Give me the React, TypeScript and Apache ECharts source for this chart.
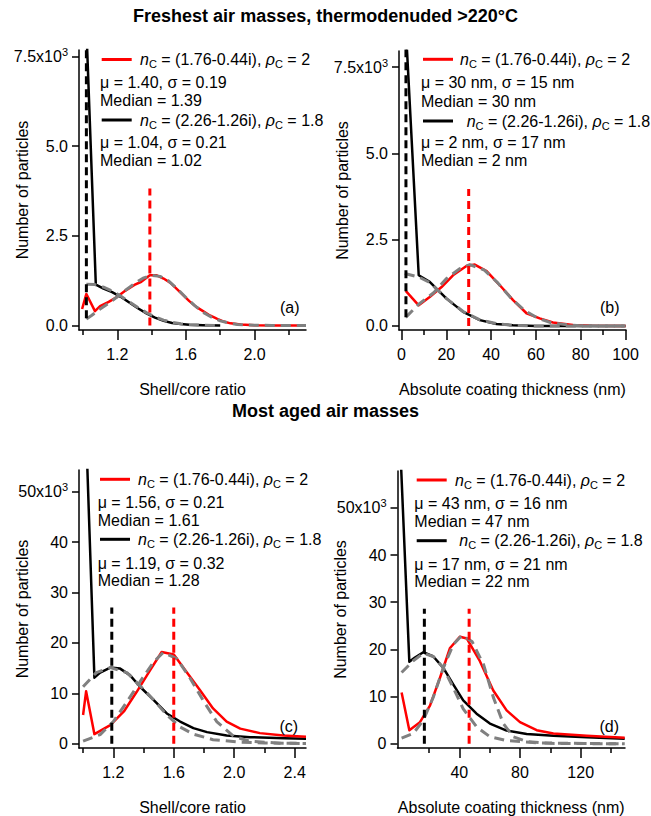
import React, { useEffect, useRef } from "react";
import * as echarts from "echarts";

const FONT = "'Liberation Sans', Arial, Helvetica, sans-serif";
const RED = "#ff0000";
const BLACK = "#000000";
const GRAY = "#808080";

// ---------- Titles ----------
const titleTop = "Freshest air masses, thermodenuded >220°C";
const titleBottom = "Most aged air masses";

// ---------- Tick values ----------
const ratioMajorA = [1.2, 1.6, 2.0];
const ratioMinorA = [1.0, 1.4, 1.8, 2.2];
const ratioMajorC = [1.2, 1.6, 2.0, 2.4];
const ratioMinorC = [1.0, 1.4, 1.8, 2.2];
const nmMajorB = [0, 20, 40, 60, 80, 100];
const nmMinorB = [10, 30, 50, 70, 90];
const nmMajorD = [40, 80, 120];
const nmMinorD = [20, 60, 100, 140];
const yTicksTop = [0, 2.5, 5.0, 7.5];
const yTicksBottom = [0, 10, 20, 30, 40, 50];

// ---------- Panel (a): shell/core ratio, freshest (x10^3) ----------
const aRed = [[0.995, 0.46], [1.02, 0.88], [1.07, 0.40], [1.10, 0.54], [1.15, 0.66], [1.20, 0.80], [1.25, 0.98], [1.30, 1.13], [1.34, 1.22], [1.39, 1.40], [1.43, 1.40], [1.47, 1.31], [1.51, 1.19], [1.56, 0.96], [1.62, 0.68], [1.66, 0.52], [1.70, 0.40], [1.74, 0.28], [1.78, 0.19], [1.82, 0.11], [1.86, 0.06], [1.92, 0.03], [2.0, 0.01], [2.1, 0.0], [2.3, 0.0]];
const aBlack = [[1.02, 8.3], [1.075, 1.14], [1.12, 1.03], [1.17, 0.93], [1.22, 0.80], [1.27, 0.64], [1.32, 0.48], [1.37, 0.34], [1.42, 0.22], [1.47, 0.13], [1.52, 0.07], [1.57, 0.04], [1.62, 0.02], [1.7, 0.01], [1.8, 0.0]];
const aFitRed = [[1.02, 0.18], [1.05, 0.28], [1.10, 0.46], [1.15, 0.62], [1.20, 0.80], [1.25, 0.99], [1.30, 1.17], [1.35, 1.32], [1.40, 1.40], [1.45, 1.37], [1.50, 1.24], [1.55, 1.02], [1.60, 0.78], [1.65, 0.56], [1.70, 0.37], [1.75, 0.23], [1.80, 0.13], [1.85, 0.07], [1.90, 0.03], [2.0, 0.01], [2.1, 0.0], [2.3, 0.0]];
const aFitBlack = [[1.02, 1.15], [1.07, 1.14], [1.12, 1.07], [1.17, 0.96], [1.22, 0.82], [1.27, 0.66], [1.32, 0.50], [1.37, 0.36], [1.42, 0.24], [1.47, 0.15], [1.52, 0.09], [1.57, 0.05], [1.62, 0.02], [1.7, 0.01], [1.8, 0.0]];
const aMedRed = [[1.39, 0], [1.39, 3.82]];
const aMedBlack = [[1.02, 0.2], [1.02, 8]];
const aStats = ["μ = 1.40, σ = 0.19", "Median = 1.39", "μ = 1.04, σ = 0.21", "Median = 1.02"];

// ---------- Panel (b): coating thickness, freshest (x10^3) ----------
const bRed = [[1.9, 1.02], [7.7, 0.60], [12.6, 0.84], [17.9, 1.13], [23, 1.47], [29, 1.74], [32.7, 1.78], [38, 1.59], [43.9, 1.18], [49.8, 0.75], [55.8, 0.37], [61.7, 0.22], [67.6, 0.10], [76.5, 0.03], [85, 0.01], [100, 0.0]];
const bBlack = [[1.9, 8.7], [7.7, 1.47], [12.6, 1.28], [20, 0.80], [27.5, 0.41], [35, 0.17], [42.4, 0.06], [49.7, 0.02], [60, 0.0], [100, 0.0]];
const bFitRed = [[1.9, 0.25], [7.7, 0.63], [14.5, 0.97], [20, 1.37], [26, 1.66], [30.5, 1.78], [37, 1.62], [43, 1.25], [49, 0.80], [55, 0.45], [61, 0.22], [67, 0.09], [73, 0.04], [80, 0.01], [90, 0.0], [100, 0.0]];
const bFitBlack = [[1.5, 1.52], [7.7, 1.42], [12.6, 1.26], [20, 0.80], [27.5, 0.42], [35, 0.18], [42.4, 0.07], [49.7, 0.02], [60, 0.0], [100, 0.0]];
const bMedRed = [[30, 0], [30, 3.97]];
const bMedBlack = [[2, 0.25], [2, 8.5]];
const bStats = ["μ = 30 nm, σ = 15 nm", "Median = 30 nm", "μ = 2 nm, σ = 17 nm", "Median = 2 nm"];

// ---------- Panel (c): shell/core ratio, most aged (x10^3) ----------
const cRed = [[1.0, 5.7], [1.02, 10.4], [1.075, 1.9], [1.18, 3.7], [1.27, 6.4], [1.355, 10.3], [1.444, 14.6], [1.52, 18.2], [1.60, 17.7], [1.686, 14.2], [1.774, 10.6], [1.86, 7.0], [1.95, 4.4], [2.04, 3.0], [2.17, 2.1], [2.325, 1.65], [2.475, 1.4]];
const cBlack = [[1.02, 62], [1.075, 13.1], [1.113, 14.1], [1.18, 15.1], [1.245, 14.9], [1.31, 13.6], [1.377, 11.3], [1.466, 8.7], [1.554, 6.0], [1.642, 4.4], [1.73, 3.1], [1.82, 2.3], [1.95, 1.65], [2.105, 1.3], [2.33, 1.1], [2.475, 1.0]];
const cFitRed = [[1.0, 0.5], [1.113, 1.8], [1.2, 4.4], [1.29, 8.3], [1.377, 12.3], [1.466, 16.2], [1.53, 18.1], [1.62, 16.9], [1.71, 12.9], [1.8, 8.3], [1.884, 4.4], [1.995, 1.5], [2.1, 0.5], [2.3, 0.1], [2.475, 0.05]];
const cFitBlack = [[1.0, 11.3], [1.087, 14.1], [1.18, 15.1], [1.29, 14.1], [1.377, 11.5], [1.466, 8.7], [1.554, 5.7], [1.642, 3.3], [1.73, 1.9], [1.86, 0.8], [2.04, 0.3], [2.2, 0.15], [2.475, 0.05]];
const cMedRed = [[1.60, 0], [1.60, 27.0]];
const cMedBlack = [[1.19, 0], [1.19, 27.0]];
const cStats = ["μ = 1.56, σ = 0.21", "Median = 1.61", "μ = 1.19, σ = 0.32", "Median = 1.28"];

// ---------- Panel (d): coating thickness, most aged (x10^3) ----------
const dRed = [[2, 10.9], [7.1, 2.9], [14.1, 4.6], [20.7, 8.1], [27.3, 14.0], [33.9, 20.3], [40.5, 22.7], [45, 22.3], [53.6, 17.5], [62.4, 11.3], [71.2, 7.1], [80, 4.6], [91, 2.9], [102, 2.2], [124, 1.7], [149, 1.3]];
const dBlack = [[1.5, 60], [7.1, 17.4], [10.8, 18.3], [16.3, 19.4], [22.9, 18.5], [29.5, 16.1], [36, 12.6], [42.6, 9.2], [51.4, 6.4], [60.2, 4.3], [71.2, 2.8], [84.4, 2.1], [102, 1.7], [124, 1.4], [149, 1.1]];
const dFitRed = [[2, 1.2], [9.7, 2.2], [16.3, 5.0], [22.9, 9.9], [29.5, 16.1], [36, 21.0], [41.8, 23.0], [48.4, 21.7], [56, 16.8], [62.4, 9.9], [69, 4.3], [75.6, 1.5], [84.4, 0.5], [100, 0.1], [149, 0.0]];
const dFitBlack = [[2, 15.1], [9.7, 17.6], [16.3, 19.2], [22.9, 18.5], [29.5, 16.1], [36, 11.9], [42.6, 7.4], [51.4, 3.6], [60.2, 1.5], [71, 0.7], [91, 0.2], [149, 0.0]];
const dMedRed = [[46.5, 0], [46.5, 28.6]];
const dMedBlack = [[17, 0], [17, 28.6]];
const dStats = ["μ = 43 nm, σ = 16 nm", "Median = 47 nm", "μ = 17 nm, σ = 21 nm", "Median = 22 nm"];

const legendRed = ["(1.76-0.44i)", "2"];
const legendBlack = ["(2.26-1.26i)", "1.8"];
const panelTags = ["(a)", "(b)", "(c)", "(d)"];

// ---------- layout ----------
const panels = [
  {
    grid: { left: 79, top: 50, width: 227, height: 280 },
    xMin: 0.977, xMax: 2.3, yMin: -0.125, yMax: 7.68,
    xMajor: ratioMajorA, xMinor: ratioMinorA, xDec: 1, yTicks: yTicksTop, yDec: 1, yTop: 7.5,
    xName: "Shell/core ratio",
    red: aRed, black: aBlack, fitRed: aFitRed, fitBlack: aFitBlack, medRed: aMedRed, medBlack: aMedBlack, stats: aStats,
    leg: { sx1: 101.7, sx2: 131.7, t1: 140, t4: 140, st: 100, ys: [59.5, 82, 100, 120, 142, 160] },
    tag: { x: 280, y: 307 },
  },
  {
    grid: { left: 399, top: 51, width: 227, height: 279 },
    xMin: -1.1, xMax: 100.2, yMin: -0.116, yMax: 7.97,
    xMajor: nmMajorB, xMinor: nmMinorB, xDec: 0, yTicks: yTicksTop, yDec: 1, yTop: 7.5,
    xName: "Absolute coating thickness (nm)",
    red: bRed, black: bBlack, fitRed: bFitRed, fitBlack: bFitBlack, medRed: bMedRed, medBlack: bMedBlack, stats: bStats,
    leg: { sx1: 423, sx2: 453, t1: 460, t4: 466.7, st: 421, ys: [59.3, 82.7, 101, 121, 142.7, 160] },
    tag: { x: 600, y: 307 },
  },
  {
    grid: { left: 79, top: 470, width: 227, height: 280 },
    xMin: 0.973, xMax: 2.475, yMin: -0.85, yMax: 54.3,
    xMajor: ratioMajorC, xMinor: ratioMinorC, xDec: 1, yTicks: yTicksBottom, yDec: 0, yTop: 50,
    xName: "Shell/core ratio",
    red: cRed, black: cBlack, fitRed: cFitRed, fitBlack: cFitBlack, medRed: cMedRed, medBlack: cMedBlack, stats: cStats,
    leg: { sx1: 100, sx2: 130, t1: 138, t4: 138, st: 97.7, ys: [479.3, 502.3, 520, 539.3, 563.3, 580.7] },
    tag: { x: 279.5, y: 726 },
  },
  {
    grid: { left: 397.5, top: 471, width: 227.5, height: 280.5 },
    xMin: -0.7, xMax: 149.2, yMin: -0.88, yMax: 57.8,
    xMajor: nmMajorD, xMinor: nmMinorD, xDec: 0, yTicks: yTicksBottom, yDec: 0, yTop: 50,
    xName: "Absolute coating thickness (nm)",
    red: dRed, black: dBlack, fitRed: dFitRed, fitBlack: dFitBlack, medRed: dMedRed, medBlack: dMedBlack, stats: dStats,
    leg: { sx1: 416.7, sx2: 446.7, t1: 455, t4: 459.3, st: 414.3, ys: [480, 503.3, 521.7, 540.7, 564, 581.7] },
    tag: { x: 599.5, y: 726 },
  },
];

const axisLineStyle = { color: "#000", width: 1.5 };
const textBase = { fontSize: 16, fontFamily: FONT, color: "#000" };

const richGraphic = {
  t: { fontSize: 16, fontFamily: FONT, lineHeight: 20, fill: "#000" },
  i: { fontSize: 16, fontFamily: FONT, lineHeight: 20, fontStyle: "italic", fill: "#000" },
  s: { fontSize: 11, fontFamily: FONT, lineHeight: 12, verticalAlign: "bottom", fill: "#000" },
};

function nLabel(pair: string[]) {
  return `{i|n}{s|C}{t| = ${pair[0]}, }{i|ρ}{s|C}{t| = ${pair[1]}}`;
}

function textEl(x: number, y: number, text: string, rich?: any) {
  return {
    type: "text",
    x,
    y,
    silent: true,
    z: 100,
    style: {
      text,
      rich,
      fill: "#000",
      font: `16px ${FONT}`,
      align: "left",
      textAlign: "left",
      verticalAlign: "middle",
      textVerticalAlign: "middle",
    },
  };
}

function lineEl(x1: number, x2: number, y: number, color: string) {
  return {
    type: "line",
    silent: true,
    z: 100,
    shape: { x1, y1: y, x2, y2: y },
    style: { stroke: color, lineWidth: 3 },
  };
}

function buildOption() {
  const grid: any[] = [];
  const xAxis: any[] = [];
  const yAxis: any[] = [];
  const series: any[] = [];
  const graphic: any[] = [];

  panels.forEach((p, i) => {
    grid.push({ ...p.grid, containLabel: false });
    const xfmt = (v: number) => v.toFixed(p.xDec);
    xAxis.push({
      type: "value",
      gridIndex: i,
      min: p.xMin,
      max: p.xMax,
      position: "bottom",
      name: p.xName,
      nameLocation: "middle",
      nameGap: 51,
      nameMoveOverlap: false,
      nameTextStyle: { ...textBase },
      axisLine: { show: true, onZero: false, lineStyle: axisLineStyle },
      axisTick: { show: true, inside: false, length: 10, customValues: p.xMajor, lineStyle: axisLineStyle },
      axisLabel: { show: true, customValues: p.xMajor, margin: 16, ...textBase, formatter: xfmt },
      splitLine: { show: false },
    });
    xAxis.push({
      type: "value",
      gridIndex: i,
      min: p.xMin,
      max: p.xMax,
      position: "bottom",
      axisLine: { show: false, onZero: false },
      axisTick: { show: true, inside: false, length: 5, customValues: p.xMinor, lineStyle: axisLineStyle },
      axisLabel: { show: false },
      splitLine: { show: false },
    });
    const yfmt = (v: number) => {
      const s = v.toFixed(p.yDec);
      return Math.abs(v - p.yTop) < 1e-9 ? `{b|${s}x10}{sup|3}` : s;
    };
    yAxis.push({
      type: "value",
      gridIndex: i,
      min: p.yMin,
      max: p.yMax,
      position: "left",
      name: "Number of particles",
      nameLocation: "middle",
      nameGap: 49,
      nameMoveOverlap: false,
      nameTextStyle: { ...textBase },
      axisLine: { show: true, onZero: false, lineStyle: axisLineStyle },
      axisTick: { show: true, inside: false, length: 7, customValues: p.yTicks, lineStyle: axisLineStyle },
      axisLabel: {
        show: true,
        customValues: p.yTicks,
        margin: 11,
        ...textBase,
        formatter: yfmt,
        rich: {
          b: { fontSize: 16, fontFamily: FONT, color: "#000", lineHeight: 20 },
          sup: { fontSize: 11, fontFamily: FONT, color: "#000", lineHeight: 12, verticalAlign: "top" },
        },
      },
      splitLine: { show: false },
    });

    const mk = (data: number[][], color: string, width: number, dash?: number[], z = 2) => ({
      type: "line",
      xAxisIndex: i * 2,
      yAxisIndex: i,
      data,
      symbol: "none",
      showSymbol: false,
      silent: true,
      clip: true,
      z,
      lineStyle: { color, width, type: dash ? dash : "solid", cap: "butt", join: "round" },
      itemStyle: { color },
      emphasis: { disabled: true },
    });
    series.push(mk(p.black, BLACK, 2.5, undefined, 2));
    series.push(mk(p.red, RED, 2.5, undefined, 3));
    series.push(mk(p.fitBlack, GRAY, 3, [10, 6], 4));
    series.push(mk(p.fitRed, GRAY, 3, [10, 6], 4));
    series.push(mk(p.medBlack, BLACK, 3, [8, 5], 5));
    series.push(mk(p.medRed, RED, 3, [8, 5], 5));

    const L = p.leg;
    graphic.push(lineEl(L.sx1, L.sx2, L.ys[0], RED));
    graphic.push(textEl(L.t1, L.ys[0], nLabel(legendRed), richGraphic));
    graphic.push(textEl(L.st, L.ys[1], `{t|${p.stats[0]}}`, richGraphic));
    graphic.push(textEl(L.st, L.ys[2], `{t|${p.stats[1]}}`, richGraphic));
    graphic.push(lineEl(L.sx1, L.sx2, L.ys[3], BLACK));
    graphic.push(textEl(L.t4, L.ys[3], nLabel(legendBlack), richGraphic));
    graphic.push(textEl(L.st, L.ys[4], `{t|${p.stats[2]}}`, richGraphic));
    graphic.push(textEl(L.st, L.ys[5], `{t|${p.stats[3]}}`, richGraphic));
    graphic.push(textEl(p.tag.x, p.tag.y, `{t|${panelTags[i]}}`, richGraphic));
  });

  return {
    animation: false,
    backgroundColor: "#ffffff",
    textStyle: { fontFamily: FONT },
    title: [
      { text: titleTop, left: "center", top: 7, padding: 0, textStyle: { fontSize: 18, fontWeight: "bold", fontFamily: FONT, color: "#000" } },
      { text: titleBottom, left: "center", top: 402, padding: 0, textStyle: { fontSize: 18, fontWeight: "bold", fontFamily: FONT, color: "#000" } },
    ],
    grid,
    xAxis,
    yAxis,
    series,
    graphic,
  };
}

export default function App() {
  const ref = useRef<HTMLDivElement>(null);
  useEffect(() => {
    if (!ref.current) return;
    const chart = echarts.init(ref.current, undefined, { renderer: "svg" });
    chart.setOption(buildOption() as any);
    return () => chart.dispose();
  }, []);
  return (
    <div
      ref={ref}
      style={{ position: "absolute", left: 0, top: 0, width: 651, height: 816, background: "#fff" }}
    />
  );
}
